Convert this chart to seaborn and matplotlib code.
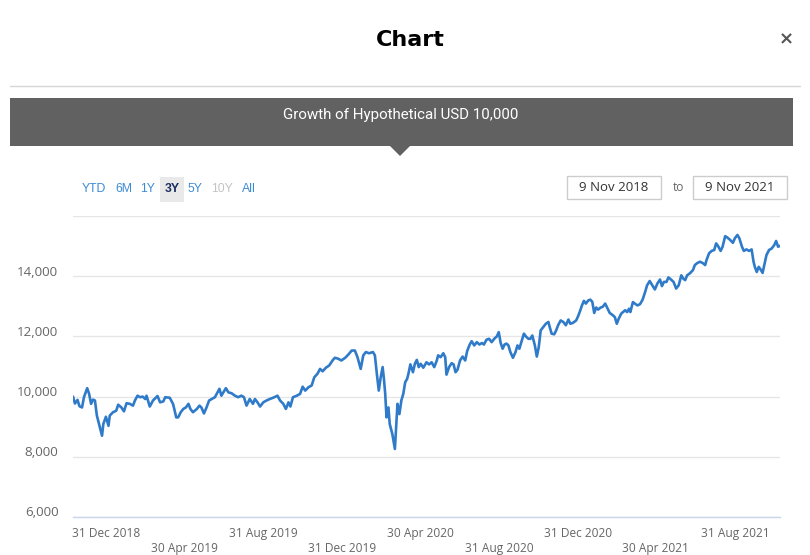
import matplotlib
matplotlib.use("Agg")
import numpy as np
import pandas as pd
import matplotlib.pyplot as plt
import seaborn as sns
from matplotlib.patches import Rectangle, Polygon
from matplotlib.lines import Line2D
from matplotlib.transforms import ScaledTranslation

# ---------------- data ----------------
start_date = "2018-11-09"
end_date = "2021-11-09"

days_since_start = (
    [0, 3, 7, 10, 14, 17, 22, 25, 28, 31, 34, 37, 41, 45, 47, 51, 55, 57, 62, 67, 70, 75, 79, 83, 88,
     93, 96, 100, 104, 108, 112, 114, 119, 124, 131, 135, 140, 143, 150, 155, 157, 160, 163, 167, 171,
     175, 179, 182, 186, 192, 196, 199, 203, 207, 211, 215, 220, 224, 227, 230, 233, 237, 241, 246, 251,
     256, 261, 265, 269]
    + [274, 279, 282, 286, 290, 295, 300, 305, 310, 317, 321, 326, 330, 334, 337, 341, 347, 352, 356,
       360, 365, 370, 374, 379, 383, 387, 392, 397, 403, 406, 411, 416, 422, 427, 432, 437, 441, 446,
       450, 454, 459, 465, 468, 471, 474, 477, 480, 482, 484, 486, 489, 491, 495, 499, 501, 503, 506,
       509, 512, 515, 518, 520, 523, 527, 530, 533, 536]
    + [539, 543, 548, 552, 556, 560, 564, 566, 570, 574, 577, 579, 583, 587, 590, 593, 596, 600, 604,
       608, 611, 615, 618, 622, 626, 630, 634, 637, 641, 645, 649, 653, 657, 660, 663, 666, 669, 672,
       675, 678, 682, 686, 689, 692, 695, 699, 702, 706, 709, 712, 716, 719, 722, 725, 729, 733, 737,
       739, 742, 746, 749, 752, 756, 760, 764, 768, 771, 775, 780, 783, 786, 789, 792, 795, 799, 802,
       805, 808, 811, 814]
    + [818, 821, 825, 828, 832, 837, 840, 843, 846, 850, 856, 859, 862, 864, 868, 871, 875, 879, 883,
       887, 890, 894, 898, 902, 906, 910, 913, 916, 920, 923, 927, 931, 935, 939, 943, 946, 949, 952,
       956, 961, 964, 968, 972, 976, 980, 982, 986, 990, 994, 997, 1000, 1004, 1007, 1011, 1014, 1018,
       1023, 1026, 1030, 1033, 1037, 1040, 1044, 1048, 1052, 1055, 1057, 1060, 1063, 1066, 1069, 1072,
       1075, 1079, 1083, 1087, 1090, 1093, 1096]
)

growth_values = (
    [10000, 9770, 9890, 9680, 9640, 9980, 10280, 10090, 9760, 9900, 9870, 9370, 9030, 8700, 9090, 9330,
     9030, 9370, 9480, 9530, 9730, 9640, 9510, 9780, 9760, 9700, 9870, 10030, 9980, 10000, 9920, 10030,
     9670, 9870, 10020, 9810, 9840, 9980, 9960, 9760, 9590, 9310, 9310, 9480, 9590, 9640, 9760, 9590,
     9480, 9590, 9700, 9640, 9440, 9640, 9870, 9920, 9980, 10140, 10260, 10030, 10140, 10280, 10140,
     10110, 10030, 9980, 10030, 9980, 9700]
    + [9920, 9760, 9920, 9810, 9670, 9810, 9870, 9920, 9960, 10030, 9870, 9760, 9590, 9810, 9670, 9980,
       10030, 10090, 10330, 10200, 10310, 10370, 10640, 10760, 10920, 10840, 10960, 11030, 11220, 11290,
       11260, 11200, 11290, 11400, 11530, 11530, 11310, 10920, 11370, 11480, 11440, 11480, 11370, 10760,
       10200, 10640, 10980, 10590, 10090, 9310, 9640, 9090, 8760, 8260, 8980, 9760, 9420, 9870, 10090,
       10480, 10590, 10760, 11070, 10810, 11090, 11220, 10980]
    + [11090, 10960, 11140, 11070, 11140, 10980, 11200, 11370, 11310, 11440, 11310, 10730, 10980, 11110,
       11070, 10810, 10890, 11200, 11330, 11200, 11510, 11730, 11840, 11700, 11810, 11730, 11780, 11730,
       11890, 11920, 11810, 11920, 12000, 12140, 11780, 11590, 11730, 11760, 11700, 11480, 11290, 11480,
       11700, 11590, 11810, 12090, 12000, 11920, 11920, 12030, 11700, 11330, 11640, 12200, 12310, 12420,
       12480, 12310, 12090, 12070, 12200, 12370, 12530, 12480, 12370, 12560, 12420, 12450, 12530, 12670,
       12840, 13030, 13180, 13090, 13200, 13220, 13150, 12780, 12960, 12890]
    + [12960, 12980, 13090, 12960, 12780, 12700, 12640, 12420, 12590, 12760, 12870, 12810, 12920, 12810,
       13140, 13090, 13030, 13070, 13220, 13480, 13700, 13840, 13700, 13560, 13760, 13890, 13670, 13810,
       13810, 13960, 13890, 13810, 13590, 13700, 14030, 13920, 13870, 14030, 14090, 14200, 14370, 14440,
       14480, 14440, 14370, 14530, 14760, 14840, 14870, 15090, 15000, 14840, 14980, 15330, 15290, 15220,
       15110, 15260, 15370, 15260, 14980, 14840, 14890, 14840, 14890, 14480, 14310, 14140, 14310, 14220,
       14110, 14400, 14700, 14870, 14920, 15030, 15170, 14980, 15010]
)

y_ticks = [6000, 8000, 10000, 12000, 14000, 16000]
y_tick_labels = ["6,000", "8,000", "10,000", "12,000", "14,000", ""]

x_tick_dates = ["2018-12-31", "2019-04-30", "2019-08-31", "2019-12-31", "2020-04-30",
                "2020-08-31", "2020-12-31", "2021-04-30", "2021-08-31"]
x_tick_labels = ["31 Dec 2018", "30 Apr 2019", "31 Aug 2019", "31 Dec 2019", "30 Apr 2020",
                 "31 Aug 2020", "31 Dec 2020", "30 Apr 2021", "31 Aug 2021"]

range_buttons = ["YTD", "6M", "1Y", "3Y", "5Y", "10Y", "All"]
selected_button = "3Y"
disabled_button = "10Y"
title_text = "Chart"
banner_text = "Growth of Hypothetical USD 10,000"
from_label = "9 Nov 2018"
to_word = "to"
to_label = "9 Nov 2021"

# ---------------- figure ----------------
W, H = 810, 555
sns.set_theme(style="white")
plt.rcParams["font.family"] = ["Open Sans", "DejaVu Sans"]

fig = plt.figure(figsize=(W / 100, H / 100), dpi=100)
fig.patch.set_facecolor("white")


def fx(x):
    return x / W


def fy(y):
    return 1 - y / H


ax = fig.add_axes([fx(73), fy(517), (780 - 73) / W, (517 - 216) / H])

df = pd.DataFrame({
    "date": pd.Timestamp(start_date) + pd.to_timedelta(days_since_start, unit="D"),
    "value": growth_values,
})
sns.lineplot(data=df, x="date", y="value", ax=ax, color="#2f7bc9", linewidth=1.9)

ax.set_xlim(pd.Timestamp(start_date), pd.Timestamp(end_date))
ax.set_ylim(6000, 16000)
ax.set_xlabel("")
ax.set_ylabel("")

ax.set_yticks(y_ticks)
ax.set_yticklabels(y_tick_labels)
ax.yaxis.grid(True, color="#e6e6e6", linewidth=1)
ax.xaxis.grid(False)
for s in ["top", "left", "right"]:
    ax.spines[s].set_visible(False)
ax.spines["bottom"].set_color("#ccd6eb")
ax.spines["bottom"].set_linewidth(1)

ax.set_xticks(pd.to_datetime(x_tick_dates))
ax.set_xticklabels(x_tick_labels)
ax.tick_params(axis="x", length=7, width=1, color="#ccd6eb", direction="out",
               pad=0.5, labelsize=8.6, labelcolor="#666666")
ax.tick_params(axis="y", length=0, pad=10.5, labelsize=9.6, labelcolor="#666666")

for i, lab in enumerate(ax.get_xticklabels()):
    if i % 2 == 1:
        lab.set_transform(lab.get_transform() + ScaledTranslation(0, -15 / 100, fig.dpi_scale_trans))
for lab in ax.get_yticklabels():
    lab.set_transform(lab.get_transform() + ScaledTranslation(0, 5.5 / 100, fig.dpi_scale_trans))

# ---------------- decorations ----------------
fig.text(fx(410), fy(40), title_text, ha="center", va="center", fontsize=16,
         fontweight="bold", family=["DejaVu Sans"], color="#000000")
fig.text(fx(786), fy(39), "\u00d7", ha="center", va="center", fontsize=13,
         fontweight="bold", family=["DejaVu Sans"], color="#555555")
fig.add_artist(Line2D([fx(10), fx(800)], [fy(86), fy(86)], color="#d6d6d6", linewidth=1,
                      transform=fig.transFigure))

fig.add_artist(Rectangle((fx(10), fy(146)), (793 - 10) / W, (146 - 98) / H,
                         facecolor="#616161", edgecolor="none", transform=fig.transFigure))
fig.add_artist(Polygon([(fx(390), fy(146)), (fx(410), fy(146)), (fx(400), fy(156))],
                       closed=True, facecolor="#616161", edgecolor="none",
                       transform=fig.transFigure))
fig.text(fx(401), fy(115), banner_text, ha="center", va="center", fontsize=10.9,
         family=["Roboto", "DejaVu Sans"], color="white")

btn_x = [94, 124, 148, 172, 195, 221.5, 249]
for name, bx in zip(range_buttons, btn_x):
    color = "#3d8bd6"
    weight = "normal"
    if name == selected_button:
        fig.add_artist(Rectangle((fx(160), fy(202)), 24 / W, 25 / H, facecolor="#e9e9e9",
                                 edgecolor="none", transform=fig.transFigure))
        color = "#1c2f5c"
        weight = "bold"
    elif name == disabled_button:
        color = "#c4c4c4"
    fig.text(fx(bx), fy(189), name, ha="center", va="center", fontsize=8.8,
             family=["Liberation Sans", "DejaVu Sans"], color=color, fontweight=weight)

for (x0, x1), lbl in [((567, 661), from_label), ((693, 787), to_label)]:
    fig.add_artist(Rectangle((fx(x0), fy(199)), (x1 - x0) / W, (199 - 176) / H,
                             facecolor="white", edgecolor="#cccccc", linewidth=1,
                             transform=fig.transFigure))
    fig.text(fx((x0 + x1) / 2), fy(187.5), lbl, ha="center", va="center", fontsize=9.5,
             color="#333333")
fig.text(fx(678), fy(187.5), to_word, ha="center", va="center", fontsize=8.6, color="#666666")

fig.savefig("out.png", dpi=100, facecolor="white")
